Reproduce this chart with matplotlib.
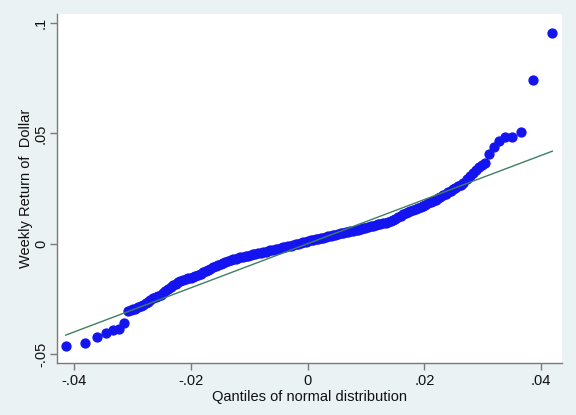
import matplotlib
matplotlib.use("Agg")
import matplotlib.pyplot as plt

# Normal quantiles (x) and sorted weekly returns (y)
left_tail_x = [-0.04145, -0.03814, -0.03614, -0.03460, -0.03329, -0.03227, -0.03141]
left_tail_y = [-0.04637, -0.04515, -0.04216, -0.04034, -0.03912, -0.03867, -0.03581]

body_x = [-0.03077, -0.02992, -0.02906, -0.02820, -0.02735, -0.02649, -0.02563, -0.02478,
          -0.02392, -0.02306, -0.02221, -0.02135, -0.02049, -0.01964, -0.01878, -0.01792,
          -0.01707, -0.01621, -0.01535, -0.01450, -0.01364, -0.01278, -0.01193, -0.01107,
          -0.01021, -0.00936, -0.00850, -0.00764, -0.00679, -0.00593, -0.00507, -0.00422,
          -0.00336, -0.00250, -0.00164, -0.00079, 0.00007, 0.00093, 0.00178, 0.00264,
          0.00350, 0.00435, 0.00521, 0.00607, 0.00692, 0.00778, 0.00864, 0.00949,
          0.01035, 0.01121, 0.01206, 0.01292, 0.01378, 0.01463, 0.01549, 0.01635,
          0.01720, 0.01806, 0.01892, 0.01977, 0.02063, 0.02149, 0.02234, 0.02320,
          0.02406, 0.02491, 0.02577, 0.02663, 0.02731, 0.02783, 0.02834, 0.02886,
          0.02937, 0.02988, 0.03040]
body_y = [-0.03051, -0.02983, -0.02892, -0.02779, -0.02643, -0.02484, -0.02371, -0.02257,
          -0.02053, -0.01872, -0.01759, -0.01646, -0.01578, -0.01510, -0.01419, -0.01306,
          -0.01192, -0.01079, -0.00966, -0.00875, -0.00784, -0.00716, -0.00648, -0.00603,
          -0.00549, -0.00490, -0.00435, -0.00385, -0.00331, -0.00286, -0.00231, -0.00172,
          -0.00118, -0.00059, 0.00005, 0.00063, 0.00131, 0.00186, 0.00231, 0.00277,
          0.00331, 0.00381, 0.00440, 0.00490, 0.00530, 0.00580, 0.00635, 0.00689,
          0.00748, 0.00811, 0.00870, 0.00929, 0.00984, 0.01074, 0.01210, 0.01324,
          0.01437, 0.01528, 0.01618, 0.01709, 0.01822, 0.01936, 0.02049, 0.02185,
          0.02321, 0.02457, 0.02593, 0.02752, 0.02910, 0.03046, 0.03205, 0.03341,
          0.03454, 0.03568, 0.03672]

body_mid_x = [-0.03034, -0.02949, -0.02863, -0.02777, -0.02692, -0.02606, -0.02520, -0.02435,
              -0.02349, -0.02263, -0.02178, -0.02092, -0.02006, -0.01921, -0.01835, -0.01749,
              -0.01664, -0.01578, -0.01492, -0.01407, -0.01321, -0.01235, -0.01150, -0.01064,
              -0.00978, -0.00893, -0.00807, -0.00721, -0.00636, -0.00550, -0.00464, -0.00379,
              -0.00293, -0.00207, -0.00121, -0.00036, 0.00050, 0.00136, 0.00221, 0.00307,
              0.00393, 0.00478, 0.00564, 0.00650, 0.00735, 0.00821, 0.00907, 0.00992,
              0.01078, 0.01164, 0.01249, 0.01335, 0.01421, 0.01506, 0.01592, 0.01678,
              0.01763, 0.01849, 0.01935, 0.02020, 0.02106, 0.02192, 0.02277, 0.02363,
              0.02449, 0.02534, 0.02620]
body_mid_y = [-0.03017, -0.02938, -0.02835, -0.02711, -0.02563, -0.02427, -0.02314, -0.02155,
              -0.01962, -0.01815, -0.01702, -0.01612, -0.01544, -0.01465, -0.01362, -0.01249,
              -0.01135, -0.01022, -0.00920, -0.00830, -0.00750, -0.00682, -0.00625, -0.00576,
              -0.00519, -0.00462, -0.00410, -0.00358, -0.00308, -0.00258, -0.00201, -0.00145,
              -0.00088, -0.00027, 0.00034, 0.00097, 0.00158, 0.00208, 0.00254, 0.00304,
              0.00356, 0.00410, 0.00465, 0.00510, 0.00555, 0.00607, 0.00662, 0.00718,
              0.00779, 0.00840, 0.00899, 0.00956, 0.01027, 0.01140, 0.01268, 0.01380,
              0.01483, 0.01573, 0.01663, 0.01765, 0.01879, 0.01992, 0.02117, 0.02253,
              0.02389, 0.02525, 0.02672]

right_tail_x = [0.03113, 0.03194, 0.03285, 0.03382, 0.03508, 0.03657, 0.03862, 0.04193]
right_tail_y = [0.04066, 0.04383, 0.04633, 0.04823, 0.04823, 0.05050, 0.07421, 0.09538]

x_ticks = [-0.04, -0.02, 0.0, 0.02, 0.04]
x_tick_labels = ["-.04", "-.02", "0", ".02", ".04"]
y_ticks = [-0.05, 0.0, 0.05, 0.1]
y_tick_labels = ["-.05", "0", ".05", ".1"]

qx = left_tail_x + body_x + body_mid_x + right_tail_x
qy = left_tail_y + body_y + body_mid_y + right_tail_y

plt.rcParams['font.family'] = ['Liberation Sans', 'DejaVu Sans']

fig = plt.figure(figsize=(5.76, 4.15), dpi=100, facecolor="#eaf2f3")
ax = fig.add_axes([57/576, 1 - 363/415, (562 - 57)/576, (363 - 14)/415])
ax.set_facecolor("white")

ax.plot(qx, qy, linestyle="none", marker="o", markersize=6.4,
        markerfacecolor="#1414f0", markeredgecolor="#1414f0", zorder=2)
lo, hi = min(qx), max(qx)
ax.plot([lo, hi], [lo, hi], color="#3f7f62", linewidth=1.0, zorder=3)

ax.set_xlim(-0.04294, 0.04359)
ax.set_ylim(-0.05408, 0.1041)

ax.set_xticks(x_ticks)
ax.set_xticklabels(x_tick_labels)
ax.set_yticks(y_ticks)
ax.set_yticklabels(y_tick_labels, rotation=90, va="center")

for s in ["top", "right"]:
    ax.spines[s].set_visible(False)
for s in ["left", "bottom"]:
    ax.spines[s].set_color("#7a7a7a")
    ax.spines[s].set_linewidth(1.0)
ax.tick_params(direction="out", length=5, width=1.0, color="#7a7a7a",
               labelsize=10.5, labelcolor="#111111", pad=3)
ax.tick_params(axis="y", pad=1.5)

ax.set_xlabel("Qantiles of normal distribution", fontsize=10.5, color="#111111", labelpad=1)
ax.set_ylabel("Weekly Return of  Dollar", fontsize=10.5, color="#111111", labelpad=1)

fig.savefig("out.png", dpi=100, facecolor=fig.get_facecolor())
